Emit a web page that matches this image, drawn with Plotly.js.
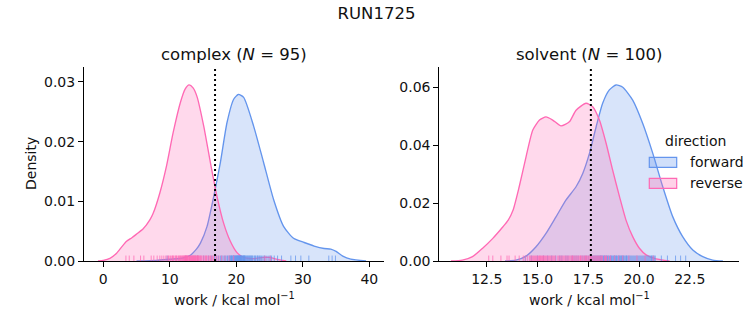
<!DOCTYPE html>
<html><head><meta charset="utf-8">
<script src="https://cdn.plot.ly/plotly-3.0.1.min.js"></script>
<style>html,body{margin:0;padding:0;background:#fff}#chart{width:753px;height:325px}</style>
</head><body><div id="chart"></div>
<script>
// ---- data ----
const complexReverseX = [-0.8, 0.0, 1.0, 2.0, 2.8, 3.5, 4.3, 5.0, 6.0, 7.0, 7.5, 8.5, 9.5, 10.5, 11.6, 12.3, 12.9, 13.5, 14.1, 15.1, 16.1, 17.1, 18.1, 19.1, 20.1, 21.1, 22.5, 24.0, 25.0, 26.0, 27.5];
const complexReverseY = [0, 0.0001, 0.00045, 0.0013, 0.0024, 0.0033, 0.0039, 0.0045, 0.0054, 0.0069, 0.0080, 0.0114, 0.0159, 0.0215, 0.0266, 0.0288, 0.0295, 0.0290, 0.0275, 0.0226, 0.0165, 0.0108, 0.0063, 0.0033, 0.0014, 0.0006, 0.0004, 0.0006, 0.0006, 0.0003, 0];
const complexForwardX = [5.0, 8.0, 10.0, 12.0, 13.0, 14.0, 14.6, 15.6, 16.6, 17.6, 18.6, 19.6, 20.3, 21.1, 22.6, 24.1, 25.6, 27.1, 28.6, 30.2, 31.7, 33.2, 34.2, 35.0, 36.0, 37.2, 39.5];
const complexForwardY = [0, 0.0001, 0.0003, 0.0005, 0.0009, 0.0020, 0.0030, 0.0058, 0.0108, 0.0165, 0.0232, 0.0271, 0.0279, 0.0274, 0.0226, 0.0165, 0.0103, 0.0058, 0.0038, 0.0031, 0.0025, 0.0021, 0.0020, 0.0016, 0.0008, 0.0003, 0];
const solventReverseX = [10.74, 11.3, 11.8, 12.3, 12.8, 13.3, 13.55, 13.8, 14.1, 14.44, 14.77, 15.1, 15.42, 15.75, 16.16, 16.57, 16.9, 17.39, 17.72, 18.05, 18.38, 18.7, 19.04, 19.36, 19.69, 20.02, 20.35, 20.84, 21.5];
const solventReverseY = [0, 0.0003, 0.0015, 0.0044, 0.0078, 0.0118, 0.0140, 0.0176, 0.0256, 0.0360, 0.0452, 0.0486, 0.0497, 0.0486, 0.0466, 0.0480, 0.0520, 0.0544, 0.0532, 0.0486, 0.0406, 0.0314, 0.0222, 0.0141, 0.0084, 0.0044, 0.0021, 0.0007, 0];
const solventForwardX = [13.4, 13.94, 14.44, 14.93, 15.42, 15.92, 16.4, 16.9, 17.23, 17.56, 17.89, 18.21, 18.54, 18.87, 19.2, 19.69, 20.18, 20.68, 21.17, 21.66, 22.15, 22.65, 23.14, 23.63, 24.13];
const solventForwardY = [0, 0.0003, 0.0017, 0.0049, 0.0095, 0.0153, 0.0210, 0.0256, 0.0302, 0.0371, 0.0463, 0.0544, 0.0590, 0.0607, 0.0599, 0.0555, 0.0475, 0.0371, 0.0256, 0.0153, 0.0084, 0.0038, 0.0015, 0.0003, 0];

// rug samples
const complexReverseRug = [3.4, 3.9, 4.6, 5.6, 6.1, 7.2, 7.6, 8.1, 8.5, 8.8, 9.1, 9.4, 9.6, 9.8, 9.9, 10.1, 10.3, 10.4, 10.5, 10.6, 10.8, 10.9, 11.0, 11.1, 11.3, 11.4, 11.5, 11.6, 11.7, 11.8, 11.9, 12.0, 12.1, 12.15, 12.2, 12.3, 12.35, 12.4, 12.45, 12.5, 12.55, 12.6, 12.65, 12.7, 12.8, 12.9, 12.95, 13.0, 13.05, 13.1, 13.2, 13.25, 13.3, 13.4, 13.45, 13.5, 13.55, 13.6, 13.7, 13.75, 13.8, 13.85, 13.9, 14.0, 14.1, 14.15, 14.2, 14.25, 14.3, 14.4, 14.5, 14.6, 14.7, 14.8, 15.0, 15.1, 15.3, 15.4, 15.5, 15.6, 15.8, 16.0, 16.1, 16.2, 16.4, 16.6, 16.9, 17.1, 17.4, 17.8, 18.3, 18.9, 19.6, 24.3, 25.1];
const complexForwardRug = [9.6, 12.4, 14.2, 15.1, 15.8, 16.3, 16.7, 17.0, 17.3, 17.6, 17.8, 18.0, 18.2, 18.4, 18.6, 18.7, 18.9, 19.0, 19.1, 19.2, 19.3, 19.4, 19.5, 19.6, 19.65, 19.7, 19.8, 19.85, 19.9, 20.0, 20.05, 20.1, 20.2, 20.25, 20.3, 20.4, 20.45, 20.5, 20.6, 20.65, 20.7, 20.8, 20.85, 20.9, 21.0, 21.1, 21.15, 21.2, 21.3, 21.4, 21.5, 21.6, 21.7, 21.8, 21.9, 22.0, 22.1, 22.2, 22.3, 22.4, 22.5, 22.7, 22.8, 22.9, 23.1, 23.2, 23.3, 23.5, 23.6, 23.8, 24.0, 24.2, 24.3, 24.6, 24.9, 25.1, 25.3, 25.7, 26.2, 26.8, 28.2, 28.9, 29.7, 30.9, 33.9, 34.4, 34.9, 19.25, 19.55, 20.15, 20.35, 20.55, 20.75, 21.05, 21.25];
const solventReverseRug = [12.6, 12.8, 13.2, 13.5, 13.6, 13.9, 14.1, 14.3, 14.4, 14.5, 14.6, 14.65, 14.7, 14.75, 14.8, 14.85, 14.9, 14.95, 15.0, 15.05, 15.1, 15.12, 15.15, 15.2, 15.25, 15.28, 15.3, 15.35, 15.4, 15.45, 15.5, 15.55, 15.6, 15.65, 15.7, 15.75, 15.8, 15.85, 15.9, 16.0, 16.05, 16.1, 16.15, 16.2, 16.25, 16.3, 16.35, 16.4, 16.45, 16.5, 16.55, 16.6, 16.65, 16.7, 16.72, 16.75, 16.8, 16.85, 16.9, 16.95, 17.0, 17.05, 17.1, 17.12, 17.15, 17.2, 17.25, 17.3, 17.35, 17.38, 17.4, 17.45, 17.5, 17.55, 17.6, 17.62, 17.65, 17.7, 17.75, 17.8, 17.85, 17.9, 17.95, 18.0, 18.05, 18.1, 18.15, 18.2, 18.3, 18.35, 18.4, 18.5, 18.6, 18.8, 19.0, 19.2, 19.5, 19.9, 20.3, 20.7];
const solventForwardRug = [14.4, 14.7, 15.0, 15.3, 15.5, 15.7, 15.9, 16.1, 16.2, 16.4, 16.5, 16.7, 16.8, 16.9, 17.0, 17.2, 17.3, 17.4, 17.5, 17.6, 17.65, 17.7, 17.75, 17.8, 17.85, 17.9, 17.95, 18.0, 18.05, 18.1, 18.12, 18.15, 18.2, 18.25, 18.28, 18.3, 18.35, 18.4, 18.42, 18.45, 18.5, 18.55, 18.6, 18.62, 18.65, 18.7, 18.75, 18.78, 18.8, 18.85, 18.88, 18.9, 18.95, 19.0, 19.02, 19.05, 19.1, 19.12, 19.15, 19.2, 19.22, 19.25, 19.3, 19.35, 19.38, 19.4, 19.45, 19.5, 19.55, 19.6, 19.65, 19.7, 19.75, 19.8, 19.85, 19.9, 19.95, 20.0, 20.05, 20.1, 20.15, 20.2, 20.25, 20.3, 20.35, 20.4, 20.45, 20.5, 20.55, 20.6, 20.62, 20.68, 20.7, 20.75, 20.8, 21.1, 21.4, 21.8, 22.05, 22.3];

const complexMedian = 16.8;
const solventMedian = 17.63;
const panelTitles = ['complex (<i>N</i> = 95)', 'solvent (<i>N</i> = 100)'];
const seriesNames = ['forward', 'reverse'];
const xTitle = 'work / kcal mol<sup>−1</sup>';
const yTitle = 'Density';
const figTitle = 'RUN1725';

// ---- styling ----
const FONT = 'DejaVu Sans, Verdana, sans-serif';
const TXT = '#111111';
const blue = 'rgb(100,149,237)', blueFill = 'rgba(100,149,237,0.25)', blueRug = 'rgba(100,149,237,0.75)';
const pink = 'rgb(255,105,180)', pinkFill = 'rgba(255,105,180,0.25)', pinkRug = 'rgba(255,105,180,0.75)';
const W = 753, H = 325;
const px = v => v / W, py = v => (H - v) / H;
const FS = 14, TFS = 16.5;

const ranges = {
  x: [-2.9, 42.2], y: [0, 0.03255],
  x2: [10.165, 24.94], y2: [0, 0.067]
};

function kde(x, y, line, fill, xa, ya) {
  return {type: 'scatter', mode: 'lines', x: x, y: y, xaxis: xa, yaxis: ya,
    fill: 'tozeroy', fillcolor: fill, line: {color: line, width: 1.35, shape: 'spline', smoothing: 0.6},
    hoverinfo: 'skip', showlegend: false};
}
function rug(vals, color, xa, ya, ymax) {
  const xs = [], ys = [];
  const h = 0.028 * ymax;
  vals.forEach(v => { xs.push(v, v, null); ys.push(0, h, null); });
  return {type: 'scatter', mode: 'lines', x: xs, y: ys, xaxis: xa, yaxis: ya,
    line: {color: color, width: 1}, hoverinfo: 'skip', showlegend: false};
}
function vline(v, xa, ya, ymax) {
  return {type: 'scatter', mode: 'lines', x: [v, v], y: [0, ymax], xaxis: xa, yaxis: ya,
    line: {color: 'black', width: 2, dash: '2px,3px'}, hoverinfo: 'skip', showlegend: false};
}

const data = [
  kde(complexForwardX, complexForwardY, blue, blueFill, 'x', 'y'),
  kde(complexReverseX, complexReverseY, pink, pinkFill, 'x', 'y'),
  rug(complexForwardRug, blueRug, 'x', 'y', ranges.y[1]),
  rug(complexReverseRug, pinkRug, 'x', 'y', ranges.y[1]),
  vline(complexMedian, 'x', 'y', ranges.y[1]),
  kde(solventForwardX, solventForwardY, blue, blueFill, 'x2', 'y2'),
  kde(solventReverseX, solventReverseY, pink, pinkFill, 'x2', 'y2'),
  rug(solventForwardRug, blueRug, 'x2', 'y2', ranges.y2[1]),
  rug(solventReverseRug, pinkRug, 'x2', 'y2', ranges.y2[1]),
  vline(solventMedian, 'x2', 'y2', ranges.y2[1])
];

const axBase = {showline: true, linecolor: 'black', linewidth: 1, ticks: 'outside', ticklen: 5, tickwidth: 1,
  tickcolor: 'black', showgrid: false, zeroline: false, fixedrange: true,
  tickfont: {family: FONT, size: FS, color: TXT}};

const yDom = [py(261), py(66.7)];
const ann = (text, x, y, extra) => Object.assign({text: text, xref: 'paper', yref: 'paper', x: px(x), y: py(y),
  xanchor: 'center', yanchor: 'middle', showarrow: false, font: {family: FONT, size: FS, color: TXT}}, extra || {});
const layout = {
  width: W, height: H, margin: {l: 0, r: 0, t: 0, b: 0},
  paper_bgcolor: 'white', plot_bgcolor: 'white', showlegend: false,
  title: {text: figTitle, x: 0.5, xanchor: 'center', y: 1 - 13 / H, yanchor: 'middle',
    font: {family: FONT, size: TFS, color: TXT}},
  xaxis: Object.assign({}, axBase, {domain: [px(84), px(384)], range: ranges.x, tickvals: [0, 10, 20, 30, 40], anchor: 'y'}),
  yaxis: Object.assign({}, axBase, {domain: yDom, range: ranges.y, tickvals: [0, 0.01, 0.02, 0.03], tickformat: '.2f', anchor: 'x'}),
  xaxis2: Object.assign({}, axBase, {domain: [px(439.3), px(739.3)], range: ranges.x2, tickvals: [12.5, 15, 17.5, 20, 22.5], tickformat: '.1f', anchor: 'y2'}),
  yaxis2: Object.assign({}, axBase, {domain: yDom, range: ranges.y2, tickvals: [0, 0.02, 0.04, 0.06], tickformat: '.2f', anchor: 'x2'}),
  annotations: [
    ann(panelTitles[0], 234, 54, {font: {family: FONT, size: TFS, color: TXT}}),
    ann(panelTitles[1], 589.3, 54, {font: {family: FONT, size: TFS, color: TXT}}),
    ann(xTitle, 234, 299),
    ann(xTitle, 589.3, 299),
    ann(yTitle, 31, 164, {textangle: -90}),
    ann('direction', 695, 141),
    ann(seriesNames[0], 688, 162, {xanchor: 'left'}),
    ann(seriesNames[1], 688, 183.3, {xanchor: 'left'})
  ],
  shapes: [
    {type: 'rect', xref: 'paper', yref: 'paper', x0: px(649.3), x1: px(676.7), y0: py(167.3), y1: py(157.3), fillcolor: 'rgba(100,149,237,0.3)', line: {color: blue, width: 1.2}},
    {type: 'rect', xref: 'paper', yref: 'paper', x0: px(649.3), x1: px(676.7), y0: py(188.3), y1: py(178.3), fillcolor: 'rgba(255,105,180,0.3)', line: {color: pink, width: 1.2}}
  ]
};

Plotly.newPlot('chart', data, layout, {displayModeBar: false, staticPlot: true});
</script>
</body></html>
